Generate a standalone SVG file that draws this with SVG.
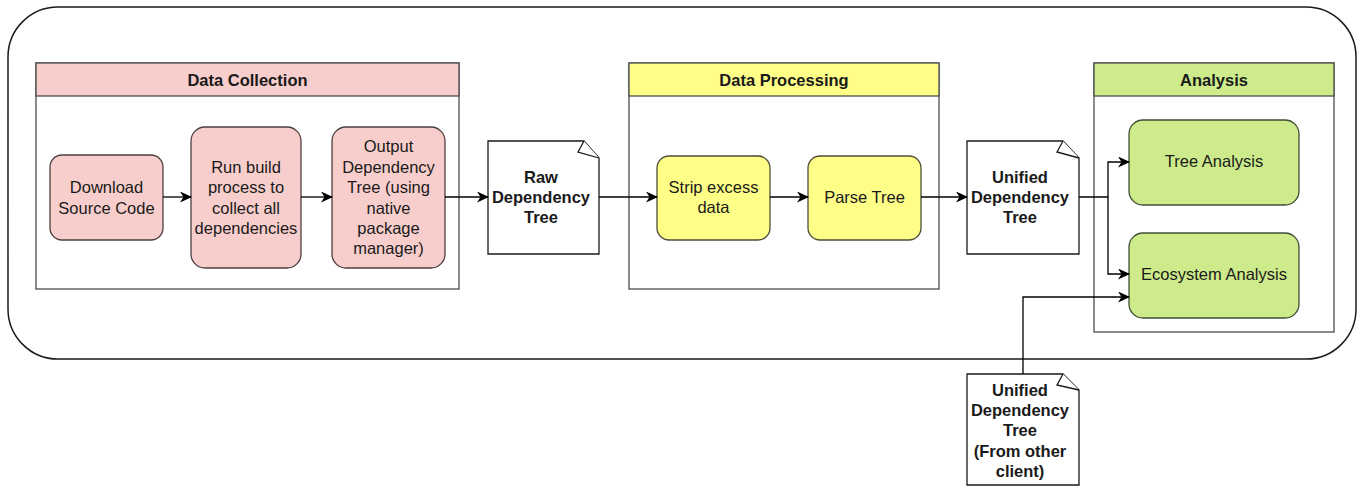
<svg xmlns="http://www.w3.org/2000/svg" width="1364" height="487" viewBox="0 0 1364 487">
<style>
text{font-family:"Liberation Sans",Arial,Helvetica,sans-serif;font-size:16.5px;fill:#1a1a1a;text-anchor:middle;dominant-baseline:central}
.b{font-weight:bold}
.cont{fill:#fff;stroke:#4d4d4d;stroke-width:1.3}
.pink{fill:#f8cecc;stroke:#4d3f3f;stroke-width:1.3}
.yel{fill:#ffff88;stroke:#4d4d3a;stroke-width:1.3}
.grn{fill:#cdeb8b;stroke:#3f4d36;stroke-width:1.3}
.doc{fill:#fff;stroke:#1a1a1a;stroke-width:1.3}
.ln{fill:none;stroke:#000;stroke-width:1.3}
</style>
<defs>
<marker id="ar" viewBox="0 0 12 11" refX="11" refY="5.5" markerWidth="12" markerHeight="11" markerUnits="userSpaceOnUse" orient="auto">
<path d="M0,0 L12,5.5 L0,11 L3.5,5.5 Z" fill="#000"/>
</marker>
</defs>
<rect id="outer" x="8" y="7" width="1348" height="352" rx="50" ry="50" fill="#fff" stroke="#1a1a1a" stroke-width="1.5"/>

<g id="data-collection">
<rect class="cont" x="36" y="63" width="423" height="226"/>
<rect class="pink" x="36" y="63" width="423" height="33" style="stroke:#4d4d4d"/>
<text class="b" x="247.5" y="80">Data Collection</text>
</g>
<g id="download">
<rect class="pink" x="50" y="155" width="113" height="85" rx="12"/>
<text x="106.5" y="187">Download</text>
<text x="106.5" y="208">Source Code</text>
</g>
<g id="run-build">
<rect class="pink" x="191" y="127" width="110" height="141" rx="14"/>
<text x="246" y="167">Run build</text>
<text x="246" y="187">process to</text>
<text x="246" y="208">collect all</text>
<text x="246" y="228">dependencies</text>
</g>
<g id="output-tree">
<rect class="pink" x="332" y="127" width="113" height="141" rx="14"/>
<text x="388.5" y="146">Output</text>
<text x="388.5" y="167">Dependency</text>
<text x="388.5" y="187">Tree (using</text>
<text x="388.5" y="208">native</text>
<text x="388.5" y="228">package</text>
<text x="388.5" y="248">manager)</text>
</g>
<g id="raw-tree">
<path class="doc" d="M488,141 H584 L599,158 V254 H488 Z"/>
<path class="doc" d="M584,141 L578,152 L599,158"/>
<text class="b" x="541" y="177">Raw</text>
<text class="b" x="541" y="197">Dependency</text>
<text class="b" x="541" y="217">Tree</text>
</g>

<g id="data-processing">
<rect class="cont" x="629" y="63" width="310" height="226"/>
<rect class="yel" x="629" y="63" width="310" height="33" style="stroke:#4d4d4d"/>
<text class="b" x="784" y="80">Data Processing</text>
</g>
<g id="strip">
<rect class="yel" x="657" y="156" width="113" height="84" rx="12"/>
<text x="713.5" y="187">Strip excess</text>
<text x="713.5" y="207">data</text>
</g>
<g id="parse">
<rect class="yel" x="808" y="156" width="113" height="84" rx="12"/>
<text x="864.5" y="197">Parse Tree</text>
</g>
<g id="unified-tree">
<path class="doc" d="M967,141 H1063 L1079,158 V254 H967 Z"/>
<path class="doc" d="M1063,141 L1057,152 L1079,158"/>
<text class="b" x="1020" y="177">Unified</text>
<text class="b" x="1020" y="197">Dependency</text>
<text class="b" x="1020" y="217">Tree</text>
</g>

<g id="analysis">
<rect class="cont" x="1094" y="63" width="240" height="269"/>
<rect class="grn" x="1094" y="63" width="240" height="33" style="stroke:#4d4d4d"/>
<text class="b" x="1214" y="80">Analysis</text>
</g>
<g id="tree-analysis">
<rect class="grn" x="1129" y="120" width="170" height="85" rx="14"/>
<text x="1214" y="161">Tree Analysis</text>
</g>
<g id="ecosystem-analysis">
<rect class="grn" x="1129" y="233" width="170" height="85" rx="14"/>
<text x="1214" y="274">Ecosystem Analysis</text>
</g>
<g id="other-client-tree">
<path class="doc" d="M967,374 H1063 L1079,390 V485 H967 Z"/>
<path class="doc" d="M1063,374 L1057,385 L1079,390"/>
<text class="b" x="1020" y="390">Unified</text>
<text class="b" x="1020" y="410">Dependency</text>
<text class="b" x="1020" y="430">Tree</text>
<text class="b" x="1020" y="451">(From other</text>
<text class="b" x="1020" y="471">client)</text>
</g>

<g id="connectors">
<path class="ln" d="M163,197 H191" marker-end="url(#ar)"/>
<path class="ln" d="M301,197 H332" marker-end="url(#ar)"/>
<path class="ln" d="M445,197 H488" marker-end="url(#ar)"/>
<path class="ln" d="M599,197 H657" marker-end="url(#ar)"/>
<path class="ln" d="M770,197 H808" marker-end="url(#ar)"/>
<path class="ln" d="M921,197 H967" marker-end="url(#ar)"/>
<path class="ln" d="M1079,197 H1108 V162 H1129" marker-end="url(#ar)"/>
<path class="ln" d="M1108,197 V274 H1129" marker-end="url(#ar)"/>
<path class="ln" d="M1023,374 V297 H1129" marker-end="url(#ar)"/>
</g>
</svg>
